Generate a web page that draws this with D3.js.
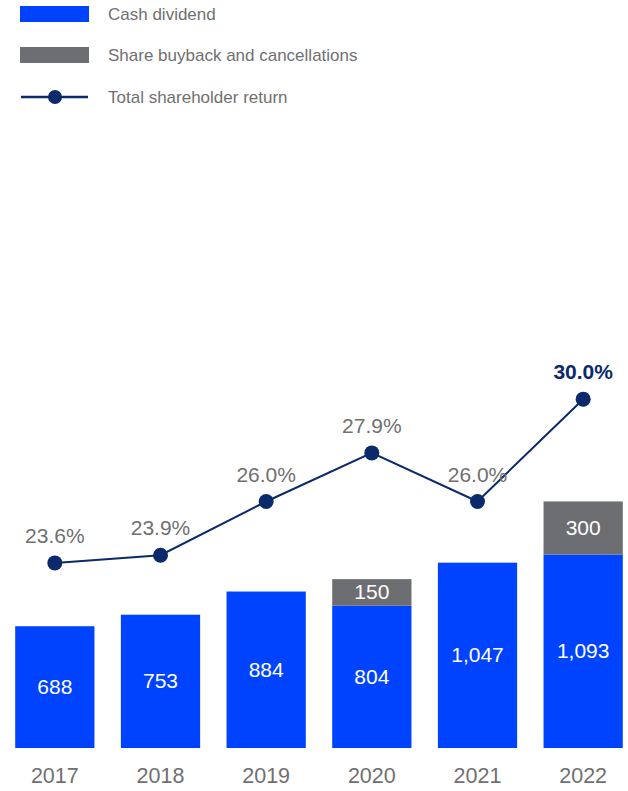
<!DOCTYPE html>
<html>
<head>
<meta charset="utf-8">
<script src="https://cdn.jsdelivr.net/npm/d3@7"></script>
<style>
  body { margin: 0; background: #fff; }
  svg { display: block; font-family: "Liberation Sans", Arial, sans-serif; }
</style>
</head>
<body>
<svg id="chart" width="628" height="791"></svg>
<script>
// chart data
const years = ['2017', '2018', '2019', '2020', '2021', '2022'];
const cashDividend = [688, 753, 884, 804, 1047, 1093];
const buyback = [0, 0, 0, 150, 0, 300];
const totalReturn = [23.6, 23.9, 26.0, 27.9, 26.0, 30.0];
const legendLabels = ['Cash dividend', 'Share buyback and cancellations', 'Total shareholder return'];

const blue = '#0043ff';
const grey = '#6d6e71';
const navy = '#0a2a6b';
const textGrey = '#707070';

const svg = d3.select('#chart');

// scales
const x = d3.scaleBand().domain(years).range([2, 636]).paddingInner(0.25).paddingOuter(0.125);
const y = d3.scaleLinear().domain([0, 1000]).range([748, 571]);
const yPct = d3.scaleLinear().domain([20, 32]).range([655, 348]);

const rows = years.map((yr, i) => ({
  year: yr, cash: cashDividend[i], buy: buyback[i], pct: totalReturn[i]
}));

// bars: cash dividend
svg.append('g').selectAll('rect').data(rows).enter().append('rect')
  .attr('x', d => x(d.year))
  .attr('y', d => y(d.cash))
  .attr('width', x.bandwidth())
  .attr('height', d => y(0) - y(d.cash))
  .attr('fill', blue);

// bars: buyback stacked on top
const buyRows = rows.filter(d => d.buy > 0);
svg.append('g').selectAll('rect').data(buyRows).enter().append('rect')
  .attr('x', d => x(d.year))
  .attr('y', d => y(d.cash + d.buy))
  .attr('width', x.bandwidth())
  .attr('height', d => y(d.cash) - y(d.cash + d.buy))
  .attr('fill', grey);

// bar labels
svg.append('g').selectAll('text').data(rows).enter().append('text')
  .attr('x', d => x(d.year) + x.bandwidth() / 2)
  .attr('y', d => (y(0) + y(d.cash)) / 2 + 7)
  .attr('text-anchor', 'middle')
  .attr('fill', '#fff')
  .style('font-size', '21px')
  .text(d => d3.format(',')(d.cash));

svg.append('g').selectAll('text').data(buyRows).enter().append('text')
  .attr('x', d => x(d.year) + x.bandwidth() / 2)
  .attr('y', d => (y(d.cash) + y(d.cash + d.buy)) / 2 + 7)
  .attr('text-anchor', 'middle')
  .attr('fill', '#fff')
  .style('font-size', '21px')
  .text(d => d3.format(',')(d.buy));

// x axis labels
const xAxis = svg.append('g')
  .attr('transform', `translate(0,${y(0)})`)
  .call(d3.axisBottom(x).tickSize(0).tickPadding(20));
xAxis.select('.domain').remove();
xAxis.selectAll('text')
  .attr('fill', textGrey)
  .style('font-size', '21.5px')
  .style('font-family', '"Liberation Sans", Arial, sans-serif');

// total shareholder return line
const cx = d => x(d.year) + x.bandwidth() / 2;
svg.append('path')
  .datum(rows)
  .attr('fill', 'none')
  .attr('stroke', navy)
  .attr('stroke-width', 2)
  .attr('d', d3.line().x(cx).y(d => yPct(d.pct)));

svg.append('g').selectAll('circle').data(rows).enter().append('circle')
  .attr('cx', cx)
  .attr('cy', d => yPct(d.pct))
  .attr('r', 7.5)
  .attr('fill', navy);

svg.append('g').selectAll('text').data(rows).enter().append('text')
  .attr('x', cx)
  .attr('y', d => yPct(d.pct) - 20)
  .attr('text-anchor', 'middle')
  .attr('fill', (d, i) => i === rows.length - 1 ? navy : textGrey)
  .style('font-weight', (d, i) => i === rows.length - 1 ? 'bold' : 'normal')
  .style('font-size', '21px')
  .text(d => d.pct.toFixed(1) + '%');

// legend
const legend = svg.append('g');
const legY = [14, 55, 97];
legend.append('rect').attr('x', 20).attr('y', 6).attr('width', 69).attr('height', 16).attr('fill', blue);
legend.append('rect').attr('x', 20).attr('y', 47).attr('width', 69).attr('height', 16).attr('fill', grey);
legend.append('line').attr('x1', 21).attr('x2', 88).attr('y1', 97).attr('y2', 97)
  .attr('stroke', navy).attr('stroke-width', 2.5);
legend.append('circle').attr('cx', 55).attr('cy', 97).attr('r', 7).attr('fill', navy);
legend.selectAll('text').data(legendLabels).enter().append('text')
  .attr('x', 108)
  .attr('y', (d, i) => legY[i] + 6)
  .attr('fill', textGrey)
  .style('font-size', '17px')
  .text(d => d);
</script>
</body>
</html>
